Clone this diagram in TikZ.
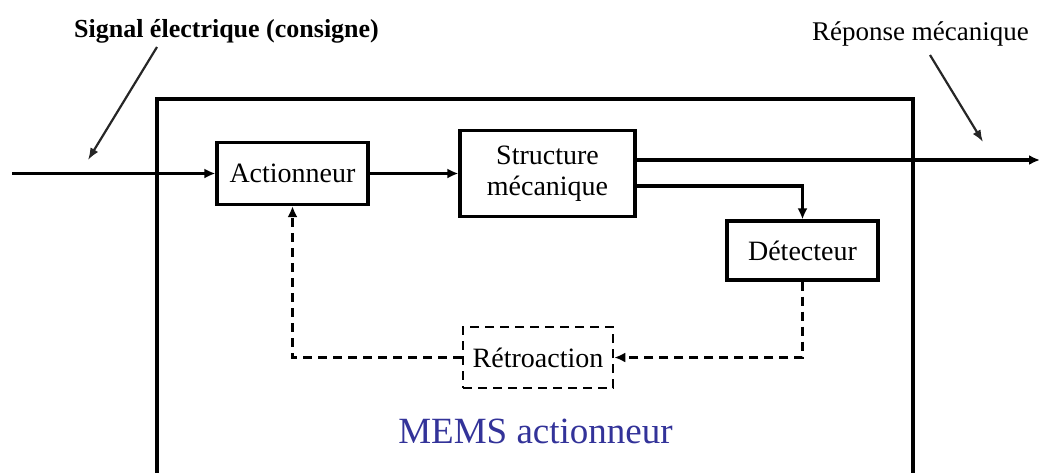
\documentclass[tikz,border=0pt]{standalone}
\usepackage{fontspec}
\setmainfont{Liberation Serif}
\usetikzlibrary{arrows.meta}
\definecolor{memsblue}{RGB}{51,51,153}
\tikzset{
  blk/.style={draw, line width=3.2pt, fill=white, inner sep=0pt, align=center,
    font=\fontsize{28}{31}\selectfont},
  fb/.style={blk, line width=2.6pt, dash pattern=on 9pt off 6pt},
  conn/.style={line width=3.2pt, -{Latex[length=11pt,width=10pt]}},
  fbconn/.style={line width=2.8pt, dash pattern=on 9pt off 6pt, -{Latex[length=11pt,width=10pt]}},
  ptr/.style={line width=2.2pt, draw=black!85, -{Latex[length=12pt,width=9pt]}},
  lab/.style={anchor=base, inner sep=0pt}
}
\begin{document}
\begin{tikzpicture}[x=1pt,y=-1pt]
\useasboundingbox (0,0) rectangle (1039,472);
% outer box (open at bottom)
\draw[line width=3.2pt] (157,478) -- (157,99) -- (913,99) -- (913,478);
% blocks
\node[blk, minimum width=151pt, minimum height=62pt] (A) at (292.5,173.5) {Actionneur};
\node[blk, minimum width=175pt, minimum height=86pt, yshift=-3pt] (S) at (547.5,170.5) {Structure\\mécanique};
\node[blk, minimum width=151pt, minimum height=59pt] (D) at (802.5,250.5) {Détecteur};
\node[fb, minimum width=150pt, minimum height=61pt] (R) at (538,357.5) {Rétroaction};
% free ends
\coordinate (in) at (12,173.5);
\coordinate (out) at (1040,160);
\coordinate (s1) at (157,47);
\coordinate (s2) at (88,160);
\coordinate (r1) at (930,55);
\coordinate (r2) at (983,142);
% connectors
\draw[conn] (in) -- (A.west);
\draw[conn] (A.east) -- (A.east -| S.west);
\draw[conn] ([yshift=13.5pt]S.east) -- (out);
\draw[conn] ([yshift=-12.5pt]S.east) -| (D.north);
\draw[fbconn] (D.south) |- (R.east);
\draw[fbconn] (R.west) -| (A.south);
% pointers
\draw[ptr] (s1) -- (s2);
\draw[ptr] (r1) -- (r2);
% labels
\node[lab, font=\fontsize{26}{28}\selectfont\bfseries] (sig) at (226.5,37) {Signal électrique (consigne)};
\node[lab, font=\fontsize{27}{29}\selectfont] (rep) at (920.5,40) {Réponse mécanique};
\node[lab, font=\fontsize{37}{40}\selectfont, text=memsblue] (mems) at (535.5,443) {MEMS actionneur};
\end{tikzpicture}
\end{document}
